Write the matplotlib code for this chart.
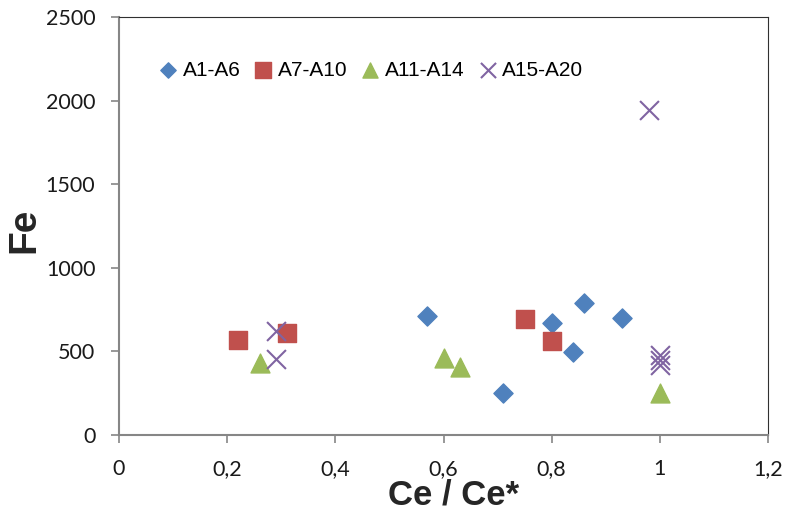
import matplotlib
matplotlib.use("Agg")
import matplotlib.pyplot as plt

plt.rcParams['font.family'] = ['Liberation Sans', 'DejaVu Sans']

# Ce/Ce* vs Fe per sample group
a1_x = [0.57, 0.71, 0.80, 0.84, 0.86, 0.93]
a1_y = [712, 250, 668, 497, 788, 700]
a7_x = [0.22, 0.31, 0.75, 0.80]
a7_y = [570, 612, 693, 565]
a11_x = [0.26, 0.60, 0.63, 1.00]
a11_y = [432, 462, 408, 250]
a15_x = [0.29, 0.29, 0.98, 1.00, 1.00, 1.00]
a15_y = [624, 455, 1945, 480, 450, 420]

x_ticks = [0, 0.2, 0.4, 0.6, 0.8, 1.0, 1.2]
x_labels = ['0', '0,2', '0,4', '0,6', '0,8', '1', '1,2']
y_ticks = [0, 500, 1000, 1500, 2000, 2500]

fig = plt.figure(figsize=(7.9, 5.2), dpi=100)
ax = fig.add_axes([119 / 790, 1 - 435 / 520, 649 / 790, 418 / 520])

ax.scatter(a1_x, a1_y, marker='D', s=95, color='#4F81BD', label='A1-A6', zorder=3)
ax.scatter(a7_x, a7_y, marker='s', s=185, color='#C0504D', label='A7-A10', zorder=3)
ax.scatter(a11_x, a11_y, marker='^', s=185, color='#9BBB59', label='A11-A14', zorder=3)
ax.scatter(a15_x, a15_y, marker='x', s=185, color='#8064A2', linewidths=1.5,
           label='A15-A20', zorder=3)

ax.set_xlim(0, 1.2)
ax.set_ylim(0, 2500)
ax.set_xticks(x_ticks)
ax.set_xticklabels(x_labels)
ax.set_yticks(y_ticks)
ax.tick_params(direction='out', length=6, width=1.2, color='#868686')
ax.tick_params(axis='y', pad=11)
ax.tick_params(axis='x', pad=11)
for lab in ax.get_xticklabels() + ax.get_yticklabels():
    lab.set_fontfamily(['Lato', 'DejaVu Sans'])
    lab.set_fontsize(15.5)
    lab.set_color('#1a1a1a')

ax.spines['left'].set_color('#868686')
ax.spines['bottom'].set_color('#868686')
ax.spines['left'].set_linewidth(1.5)
ax.spines['bottom'].set_linewidth(1.5)
ax.spines['top'].set_color('#303030')
ax.spines['right'].set_color('#303030')
ax.spines['top'].set_linewidth(0.8)
ax.spines['right'].set_linewidth(0.8)

ax.set_xlabel('Ce / Ce*', fontsize=25, fontweight='bold', color='#262626')
ax.xaxis.set_label_coords(0.515, -0.104)
ax.set_ylabel('Fe', fontsize=28, fontweight='bold', color='#262626')
ax.yaxis.set_label_coords(-0.118, 0.49)

ax.legend(loc='center left', bbox_to_anchor=(0.0625, 0.873), ncol=4, frameon=False,
          fontsize=15, handlelength=0.8, handletextpad=0.3, columnspacing=0.7,
          markerscale=0.8, borderaxespad=0, borderpad=0)

fig.savefig('out.png', dpi=100)
